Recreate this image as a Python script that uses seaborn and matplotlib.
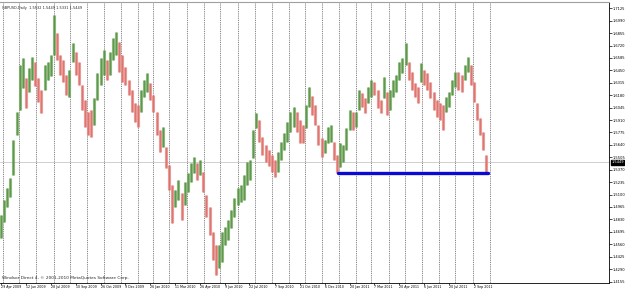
import numpy as np
import pandas as pd
import matplotlib
matplotlib.use("Agg")
import matplotlib.pyplot as plt
import seaborn as sns

# GBPUSD daily in groups of 4 trading days (high / low)
high = [1.4878, 1.5041, 1.5171, 1.5280, 1.5693, 1.5998, 1.6508, 1.6585, 1.6367, 1.6476,
        1.6595, 1.6541, 1.6367, 1.6237, 1.6508, 1.6541, 1.6617, 1.7052, 1.6856, 1.6617,
        1.6563, 1.6400, 1.6454, 1.6748, 1.6650, 1.6541, 1.6291, 1.6128, 1.5998, 1.6019,
        1.6150, 1.6421, 1.6585, 1.6672, 1.6563, 1.6650, 1.6802, 1.6867, 1.6758, 1.6617,
        1.6487, 1.6345, 1.6237, 1.6095, 1.6074, 1.6237, 1.6345, 1.6421, 1.6313, 1.6182,
        1.5998, 1.5802, 1.5835, 1.5617, 1.5421, 1.5204, 1.5150, 1.5259, 1.5117, 1.5237,
        1.5335, 1.5443, 1.5508, 1.5443, 1.5476, 1.5345, 1.5095, 1.4965, 1.4693, 1.4552,
        1.4552, 1.4693, 1.4747, 1.4824, 1.4932, 1.5063, 1.5171, 1.5204, 1.5313, 1.5454,
        1.5476, 1.5802, 1.5987, 1.5911, 1.5726, 1.5639, 1.5585, 1.5530, 1.5476, 1.5563,
        1.5671, 1.5769, 1.5889, 1.5998, 1.6052, 1.5998, 1.5911, 1.5856, 1.6074, 1.6269,
        1.6171, 1.6074, 1.5856, 1.5715, 1.5693, 1.5835, 1.5856, 1.5671, 1.5530, 1.5661,
        1.5639, 1.5824, 1.6019, 1.5998, 1.5998, 1.6237, 1.6204, 1.6150, 1.6269, 1.6345,
        1.6324, 1.6237, 1.6128, 1.6378, 1.6215, 1.6237, 1.6345, 1.6400, 1.6541, 1.6585,
        1.6748, 1.6541, 1.6432, 1.6313, 1.6269, 1.6530, 1.6454, 1.6421, 1.6324, 1.6215,
        1.6128, 1.6095, 1.6074, 1.6161, 1.6215, 1.6345, 1.6432, 1.6432, 1.6400, 1.6508,
        1.6595, 1.6508, 1.6324, 1.6095, 1.5932, 1.5780, 1.5532]
low = [1.4628, 1.4802, 1.4965, 1.5074, 1.5313, 1.5748, 1.6019, 1.6258, 1.6041, 1.6215,
       1.6345, 1.6280, 1.6106, 1.5987, 1.6237, 1.6345, 1.6389, 1.6617, 1.6563, 1.6400,
       1.6324, 1.6182, 1.6161, 1.6541, 1.6400, 1.6291, 1.6019, 1.5835, 1.5748, 1.5726,
       1.5856, 1.6128, 1.6291, 1.6400, 1.6345, 1.6400, 1.6563, 1.6617, 1.6432, 1.6324,
       1.6291, 1.6182, 1.5998, 1.5889, 1.5835, 1.5998, 1.6161, 1.6215, 1.6128, 1.5998,
       1.5748, 1.5563, 1.5617, 1.5389, 1.5150, 1.4791, 1.4965, 1.5041, 1.4824, 1.4987,
       1.5128, 1.5237, 1.5335, 1.5259, 1.5313, 1.5128, 1.4856, 1.4661, 1.4389, 1.4226,
       1.4302, 1.4367, 1.4552, 1.4607, 1.4737, 1.4856, 1.4987, 1.5019, 1.5041, 1.5204,
       1.5259, 1.5498, 1.5824, 1.5671, 1.5530, 1.5454, 1.5411, 1.5345, 1.5291, 1.5345,
       1.5476, 1.5585, 1.5671, 1.5780, 1.5835, 1.5780, 1.5661, 1.5661, 1.5824, 1.6052,
       1.5965, 1.5856, 1.5639, 1.5508, 1.5552, 1.5661, 1.5671, 1.5476, 1.5335, 1.5400,
       1.5454, 1.5585, 1.5802, 1.5802, 1.5835, 1.6019, 1.6052, 1.5987, 1.6095, 1.6161,
       1.6182, 1.6041, 1.5987, 1.6150, 1.5965, 1.6019, 1.6161, 1.6215, 1.6345, 1.6421,
       1.6508, 1.6345, 1.6237, 1.6161, 1.6095, 1.6324, 1.6291, 1.6237, 1.6150, 1.6019,
       1.5943, 1.5911, 1.5802, 1.5998, 1.6052, 1.6182, 1.6269, 1.6237, 1.6215, 1.6345,
       1.6432, 1.6291, 1.6106, 1.5911, 1.5748, 1.5585, 1.5331]

title = "GBPUSD,Daily  1.5532 1.5449 1.5331 1.5449"
footer = "Windsor Direct 4, \u00a9 2001-2010 MetaQuotes Software Corp."
last_close = 1.5449
support_level = 1.5335
support_dates = ["2010-12-29", "2011-09-28"]

date_labels = ["29 Apr 2009", "12 Jun 2009", "28 Jul 2009", "10 Sep 2009", "26 Oct 2009",
               "9 Dec 2009", "26 Jan 2010", "11 Mar 2010", "26 Apr 2010", "9 Jun 2010",
               "22 Jul 2010", "7 Sep 2010", "21 Oct 2010", "6 Dec 2010", "20 Jan 2011",
               "7 Mar 2011", "20 Apr 2011", "6 Jun 2011", "20 Jul 2011", "2 Sep 2011"]
price_ticks = [1.4155, 1.4290, 1.4425, 1.4560, 1.4695, 1.4830, 1.4965, 1.5100, 1.5235,
               1.5370, 1.5505, 1.5640, 1.5775, 1.5910, 1.6045, 1.6180, 1.6315, 1.6450,
               1.6585, 1.6720, 1.6855, 1.6990, 1.7125]
holidays = ["2009-12-25", "2010-01-01", "2010-12-31", "2011-04-22"]

# trading calendar -> bar numbers (MT4 style, one slot per bar)
cal = pd.bdate_range("2009-04-29", "2011-10-31")
cal = cal[~cal.isin(pd.to_datetime(holidays))]
bar_of = lambda d: cal.get_indexer(pd.to_datetime(d))

sns.set_theme(style="white")
plt.rcParams["font.family"] = ["DejaVu Sans"]

fig = plt.figure(figsize=(6.25, 2.89), dpi=100)
ax = fig.add_axes([0.0, 0.0208, 0.9744, 0.9723])

# month separators
months = pd.Series(cal).groupby(cal.to_period("M")).first()
seps = bar_of(months.values)
seps = seps[(seps > 0) & (seps < 640)]
ax.vlines(seps, 1.40, 1.73, colors="#555555", linestyles=(0, (1.2, 1.2)), linewidth=0.55, zorder=1)

# current price line
ax.axhline(last_close, color="#c8c8c8", linewidth=0.6, zorder=1)

# price bars
x = np.arange(len(high)) * 4
mid = (np.array(high) + np.array(low)) / 2
up = np.r_[True, np.diff(mid) > 0]
cols = np.where(up, "#79a964", "#e58a84")
ax.vlines(x, low, high, colors=cols, linewidth=2.25, alpha=0.85, zorder=2)
ax.vlines(x, low, high, colors=np.where(up, "#3f8a3a", "#d95f5c"), linewidth=0.45, zorder=2)

# support line
sup = pd.DataFrame({"bar": bar_of(support_dates), "price": [support_level] * 2})
sns.lineplot(data=sup, x="bar", y="price", color="#0a0ad2", linewidth=2.4, ax=ax, zorder=3)

ax.set_xlim(-1.3, 781.5)
ax.set_ylim(1.4139, 1.7193)
ax.set_xlabel("")
ax.set_ylabel("")

ax.yaxis.tick_right()
ax.set_yticks(price_ticks)
ax.set_yticklabels([f"{p:.4f}" for p in price_ticks])
ax.set_xticks(bar_of(pd.to_datetime(date_labels, format="%d %b %Y")))
ax.set_xticklabels(date_labels, ha="left")
ax.tick_params(axis="y", which="both", right=True, length=1.8, width=0.5, pad=0.8,
               labelsize=2.6, colors="black")
ax.tick_params(axis="x", which="both", bottom=True, length=1.2, width=0.5, pad=0.2,
               labelsize=2.3, colors="black")

ax.text(1.004, last_close, f"{last_close:.4f}", transform=ax.get_yaxis_transform(),
        fontsize=2.6, color="white", va="center", ha="left",
        bbox=dict(boxstyle="square,pad=0.12", fc="black", ec="black"))

ax.text(0.003, 0.985, title, transform=ax.transAxes, fontsize=2.5, va="top", ha="left")
ax.text(0.003, 0.012, footer, transform=ax.transAxes, fontsize=3.1, va="bottom", ha="left")

ax.spines["left"].set_visible(False)
ax.spines["top"].set_color("#a0a0a0")
ax.spines["top"].set_linewidth(0.8)
ax.spines["right"].set_color("black")
ax.spines["right"].set_linewidth(0.6)
ax.spines["bottom"].set_color("black")
ax.spines["bottom"].set_linewidth(0.6)

fig.savefig("out.png", dpi=100)
